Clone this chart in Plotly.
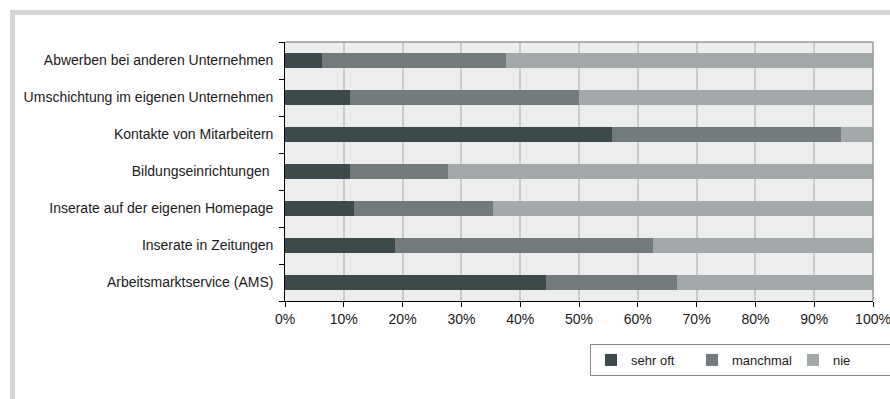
import plotly.graph_objects as go

# Recruiting channels and how often each is used (share of firms, %)
categories = [
    "Abwerben bei anderen Unternehmen",
    "Umschichtung im eigenen Unternehmen",
    "Kontakte von Mitarbeitern",
    "Bildungseinrichtungen ",
    "Inserate auf der eigenen Homepage",
    "Inserate in Zeitungen",
    "Arbeitsmarktservice (AMS)",
]
sehr_oft = [6.25, 11.1, 55.6, 11.1, 11.8, 18.75, 44.4]
manchmal = [31.25, 38.9, 38.9, 16.7, 23.5, 43.75, 22.2]
nie = [62.5, 50.0, 5.5, 72.2, 64.7, 37.5, 33.4]
series_names = ["sehr oft", "manchmal", "nie"]
series_colors = ["#3c4a4b", "#727a7b", "#a3a8aa"]
x_ticks = list(range(0, 101, 10))
x_tick_labels = [f"{v}%" for v in x_ticks]

fig = go.Figure()
for name, vals, col in zip(series_names, [sehr_oft, manchmal, nie], series_colors):
    fig.add_trace(go.Bar(
        y=categories, x=vals, name=name, orientation="h",
        marker=dict(color=col, line=dict(width=0)),
    ))

font = dict(family="Liberation Sans, Arial, sans-serif", size=14, color="#1a1a1a")

L, R, T, B = 285, 873, 42, 301  # plotting area edges in pixels
W, H = 890, 399

fig.update_layout(
    width=W, height=H,
    margin=dict(l=L, r=W - R, t=T, b=H - B, autoexpand=False),
    barmode="stack",
    bargap=0.6,
    paper_bgcolor="white",
    plot_bgcolor="#eceeed",
    font=font,
    showlegend=True,
    legend=dict(
        orientation="h",
        x=(590 - L) / (R - L), y=(B - 344) / (B - T), xanchor="left", yanchor="top",
        bgcolor="white", bordercolor="#8a8a8a", borderwidth=1,
        font=dict(family="Liberation Sans, Arial, sans-serif", size=13, color="#1a1a1a"),
        entrywidth=56, entrywidthmode="pixels",
        traceorder="normal",
    ),
    xaxis=dict(
        range=[0, 100], tickvals=x_ticks, ticktext=x_tick_labels,
        showgrid=True, gridcolor="#c9cbcb", gridwidth=1.5,
        showline=True, linecolor="#000000", linewidth=1,
        ticks="outside", ticklen=5, tickcolor="#000000",
        zeroline=False, fixedrange=True, automargin=False,
        ticklabeloverflow="allow",
        tickfont=font,
    ),
    yaxis=dict(
        categoryorder="array", categoryarray=categories[::-1],
        showline=True, linecolor="#000000", linewidth=1,
        ticks="outside", ticklen=5, tickcolor="#000000",
        tickson="boundaries", automargin=False,
        showgrid=False, ticksuffix="  ",
        tickfont=font,
    ),
    shapes=[
        # grey outline on the top and right sides of the plotting area
        dict(type="line", xref="paper", yref="paper", x0=0, x1=1, y0=1, y1=1,
             line=dict(color="#9a9a9a", width=1.5)),
        dict(type="line", xref="paper", yref="paper", x0=1, x1=1, y0=0, y1=1,
             line=dict(color="#9a9a9a", width=1.5)),
        # light grey frame along the top and left edges of the figure
        dict(type="rect", xref="paper", yref="paper",
             x0=(10 - L) / (R - L), x1=(W + 5 - L) / (R - L),
             y0=(B - 10) / (B - T), y1=(B - 15) / (B - T),
             fillcolor="#d6d6d6", line=dict(width=0), layer="above"),
        dict(type="rect", xref="paper", yref="paper",
             x0=(10 - L) / (R - L), x1=(15 - L) / (R - L),
             y0=(B - H - 10) / (B - T), y1=(B - 10) / (B - T),
             fillcolor="#d6d6d6", line=dict(width=0), layer="above"),
    ],
)

fig.write_html("out.html")
